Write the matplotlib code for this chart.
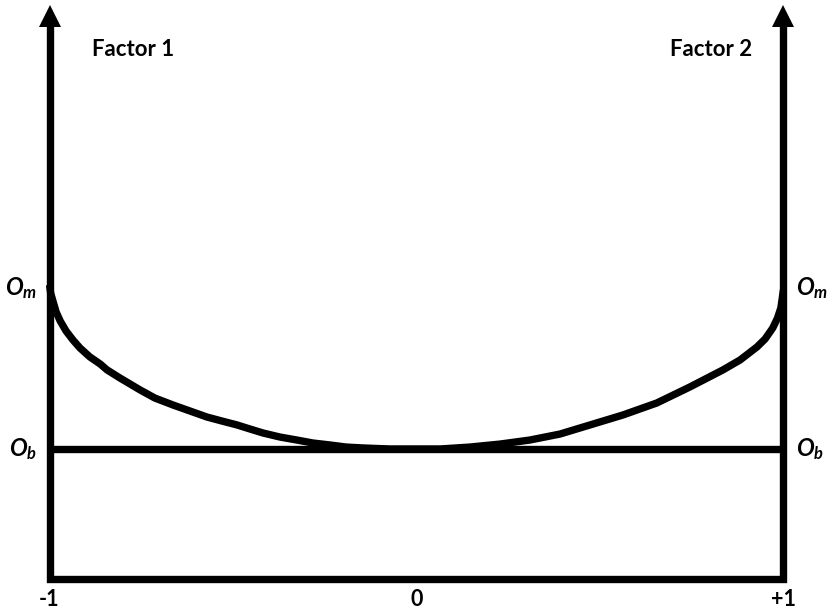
import matplotlib
matplotlib.use('Agg')
import matplotlib.pyplot as plt

plt.rcParams['font.family'] = ['Lato', 'DejaVu Sans']
plt.rcParams['mathtext.fontset'] = 'custom'
plt.rcParams['mathtext.it'] = 'Lato:italic:bold'
plt.rcParams['mathtext.rm'] = 'Lato:bold'

# curve (x: -1..+1, y: bottom=0, Ob=1)
curve_x = [-1.0, -0.997, -0.990, -0.982, -0.971, -0.955, -0.936, -0.917, -0.890,
           -0.862, -0.843, -0.808, -0.753, -0.713, -0.663, -0.617, -0.571, -0.530,
           -0.489, -0.454, -0.418, -0.372, -0.326, -0.282, -0.236, -0.192, -0.146,
           -0.072, 0.0, 0.064, 0.146, 0.228, 0.309, 0.391, 0.473, 0.563, 0.655,
           0.745, 0.835, 0.882, 0.928, 0.950, 0.971, 0.984, 0.993, 0.997, 1.0]
curve_y = [2.262, 2.200, 2.131, 2.054, 1.985, 1.908, 1.838, 1.777, 1.708,
           1.654, 1.608, 1.546, 1.454, 1.392, 1.338, 1.292, 1.246, 1.215,
           1.185, 1.154, 1.123, 1.092, 1.069, 1.046, 1.031, 1.015, 1.008,
           1.0, 1.0, 1.0, 1.015, 1.038, 1.069, 1.115, 1.185, 1.262, 1.354,
           1.477, 1.608, 1.685, 1.785, 1.846, 1.931, 2.008, 2.085, 2.162, 2.223]

ob_level = 1.0
om_level = 2.24
axis_top = 4.33
x_ticks = [-1, 0, 1]
x_labels = ['-1', '0', '+1']
factor_labels = ['Factor 1', 'Factor 2']

fig = plt.figure(figsize=(8.3, 6.15), dpi=100)
ax = fig.add_axes([0, 0, 1, 1])
ax.set_xlim(-1.135, 1.127)
ax.set_ylim(-0.277, 4.454)
ax.axis('off')

lw = 5.3
# frame: two vertical axes and the bottom line
ax.plot([-1, -1, 1, 1], [axis_top, 0, 0, axis_top], color='black', lw=lw,
        solid_joinstyle='miter', solid_capstyle='butt')
ax.plot([-1, 1], [axis_top, axis_top], ls='none', marker='^', ms=16.5,
        color='black', mew=0)

# Ob line and curve
ax.plot([-1, 1], [ob_level, ob_level], color='black', lw=lw, solid_capstyle='butt')
ax.plot(curve_x, curve_y, color='black', lw=lw, solid_joinstyle='round',
        solid_capstyle='butt')

# labels
ax.text(-0.885, 4.07, factor_labels[0], fontsize=16, fontweight='bold', ha='left', va='center')
ax.text(0.915, 4.07, factor_labels[1], fontsize=16, fontweight='bold', ha='right', va='center')

for xt, lab in zip(x_ticks, x_labels):
    ax.text(xt, -0.16, lab, fontsize=15.5, fontweight='bold', ha='center', va='center')

ax.text(-1.035, om_level, r'$O_m$', fontsize=17, ha='right', va='center')
ax.text(1.035, om_level, r'$O_m$', fontsize=17, ha='left', va='center')
ax.text(-1.035, ob_level, r'$O_b$', fontsize=17, ha='right', va='center')
ax.text(1.035, ob_level, r'$O_b$', fontsize=17, ha='left', va='center')

fig.savefig('out.png', dpi=100)
